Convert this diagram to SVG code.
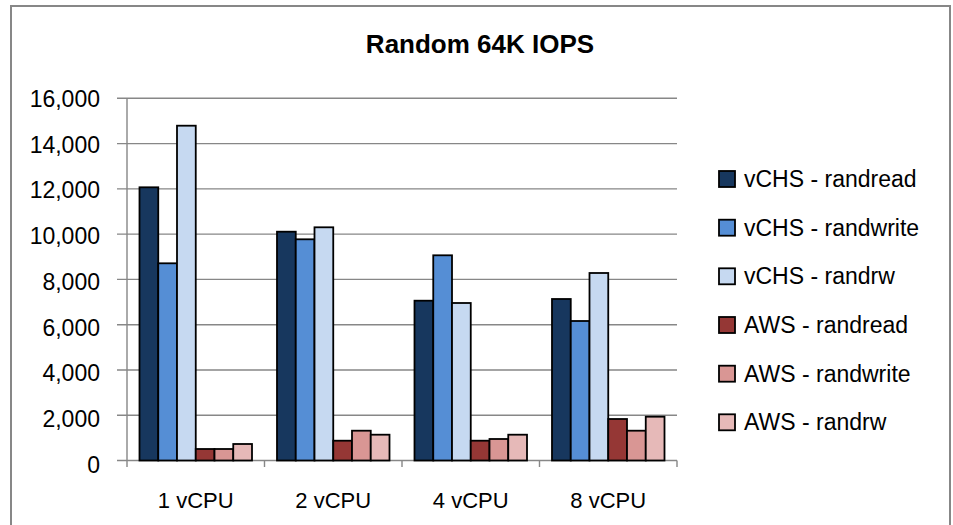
<svg xmlns="http://www.w3.org/2000/svg" width="953" height="525" viewBox="0 0 953 525">
<style>
.frame{fill:#fff;stroke:#878787;stroke-width:2}
.grid{stroke:#878787;stroke-width:1.4;fill:none}
.bar{stroke:#000;stroke-width:1.8}
.s1{fill:#17375E}.s2{fill:#558ED5}.s3{fill:#C6D9F1}.s4{fill:#953735}.s5{fill:#D99694}.s6{fill:#E6B9B8}
.t{font-family:"Liberation Sans",Arial,sans-serif;fill:#000}
.ylab{font-size:23px;text-anchor:end}
.xlab{font-size:22px;text-anchor:middle}
.leg{font-size:23px}
.title{font-size:26px;font-weight:bold;text-anchor:middle}
</style>
<rect class="frame" x="11" y="6" width="939" height="530"/>
<text class="t title" x="480" y="53">Random 64K IOPS</text>
<g id="grid">
<path class="grid" d="M117 98.3H677M117 143.6H677M117 188.9H677M117 234.1H677M117 279.4H677M117 324.7H677M117 370H677M117 415.3H677"/>
<path class="grid" d="M127 98.3V467M117 460.5H677M264.5 460.5V467M402 460.5V467M539.5 460.5V467M677 460.5V467"/>
</g>
<g id="yaxis-labels" class="t ylab">
<text x="100" y="107">16,000</text>
<text x="100" y="152.7">14,000</text>
<text x="100" y="198.4">12,000</text>
<text x="100" y="244.1">10,000</text>
<text x="100" y="289.8">8,000</text>
<text x="100" y="335.5">6,000</text>
<text x="100" y="381.2">4,000</text>
<text x="100" y="426.9">2,000</text>
<text x="100" y="472.6">0</text>
</g>
<g id="cat-1vcpu">
<rect class="bar s1" x="139.5" y="187.3" width="18.75" height="273.2"/>
<rect class="bar s2" x="158.25" y="263.3" width="18.75" height="197.2"/>
<rect class="bar s3" x="177" y="125.7" width="18.75" height="334.8"/>
<rect class="bar s4" x="195.75" y="449" width="18.75" height="11.5"/>
<rect class="bar s5" x="214.5" y="449" width="18.75" height="11.5"/>
<rect class="bar s6" x="233.25" y="444" width="18.75" height="16.5"/>
<text class="t xlab" x="195.75" y="508">1 vCPU</text>
</g>
<g id="cat-2vcpu">
<rect class="bar s1" x="277" y="231.7" width="18.75" height="228.8"/>
<rect class="bar s2" x="295.75" y="239.3" width="18.75" height="221.2"/>
<rect class="bar s3" x="314.5" y="227.3" width="18.75" height="233.2"/>
<rect class="bar s4" x="333.25" y="440.7" width="18.75" height="19.8"/>
<rect class="bar s5" x="352" y="430.7" width="18.75" height="29.8"/>
<rect class="bar s6" x="370.75" y="434.7" width="18.75" height="25.8"/>
<text class="t xlab" x="333.25" y="508">2 vCPU</text>
</g>
<g id="cat-4vcpu">
<rect class="bar s1" x="414.5" y="300.7" width="18.75" height="159.8"/>
<rect class="bar s2" x="433.25" y="255.3" width="18.75" height="205.2"/>
<rect class="bar s3" x="452" y="303" width="18.75" height="157.5"/>
<rect class="bar s4" x="470.75" y="440.7" width="18.75" height="19.8"/>
<rect class="bar s5" x="489.5" y="439" width="18.75" height="21.5"/>
<rect class="bar s6" x="508.25" y="434.7" width="18.75" height="25.8"/>
<text class="t xlab" x="470.75" y="508">4 vCPU</text>
</g>
<g id="cat-8vcpu">
<rect class="bar s1" x="552" y="299" width="18.75" height="161.5"/>
<rect class="bar s2" x="570.75" y="321" width="18.75" height="139.5"/>
<rect class="bar s3" x="589.5" y="273" width="18.75" height="187.5"/>
<rect class="bar s4" x="608.25" y="419" width="18.75" height="41.5"/>
<rect class="bar s5" x="627" y="430.7" width="18.75" height="29.8"/>
<rect class="bar s6" x="645.75" y="416.7" width="18.75" height="43.8"/>
<text class="t xlab" x="608.25" y="508">8 vCPU</text>
</g>
<g id="legend">
<g id="leg1"><rect class="bar s1" x="719" y="171" width="16" height="16"/><text class="t leg" x="744" y="187">vCHS - randread</text></g>
<g id="leg2"><rect class="bar s2" x="719" y="219.7" width="16" height="16"/><text class="t leg" x="744" y="235.7">vCHS - randwrite</text></g>
<g id="leg3"><rect class="bar s3" x="719" y="268.3" width="16" height="16"/><text class="t leg" x="744" y="284.3">vCHS - randrw</text></g>
<g id="leg4"><rect class="bar s4" x="719" y="317" width="16" height="16"/><text class="t leg" x="744" y="333">AWS - randread</text></g>
<g id="leg5"><rect class="bar s5" x="719" y="365.7" width="16" height="16"/><text class="t leg" x="744" y="381.7">AWS - randwrite</text></g>
<g id="leg6"><rect class="bar s6" x="719" y="414.3" width="16" height="16"/><text class="t leg" x="744" y="430.3">AWS - randrw</text></g>
</g>
</svg>
